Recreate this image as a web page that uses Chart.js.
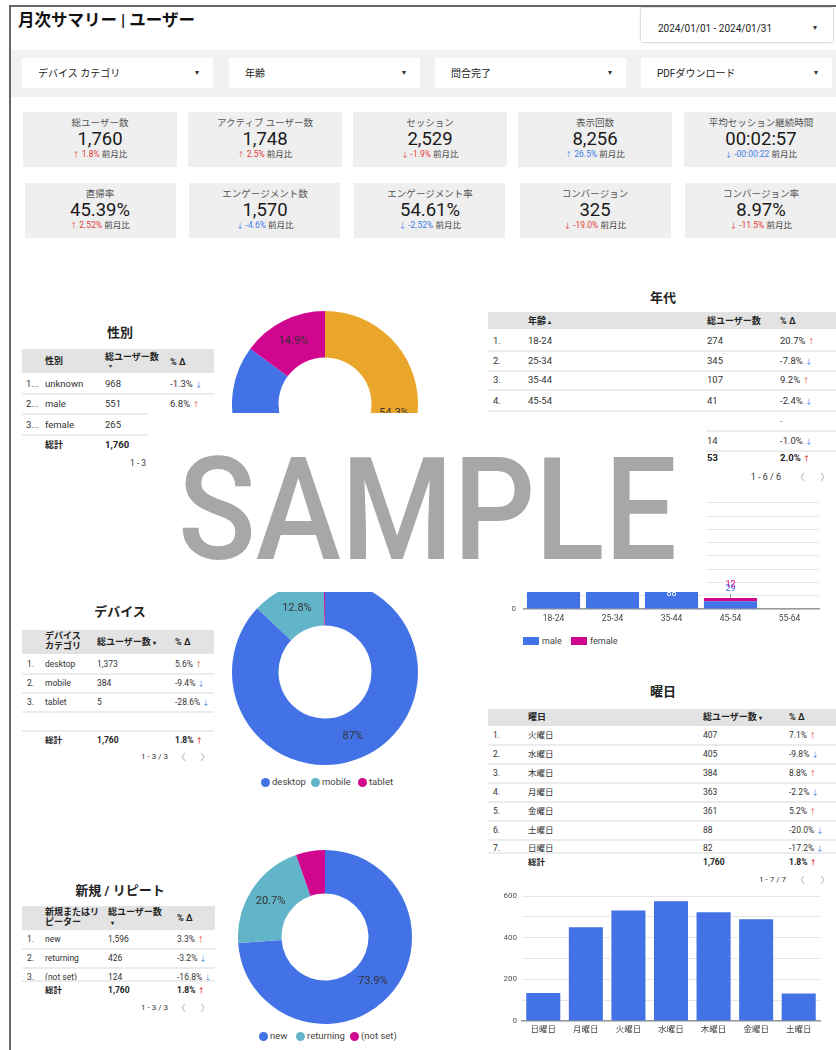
<!DOCTYPE html>
<html><head><meta charset="utf-8">
<script src="https://cdn.jsdelivr.net/npm/chart.js@4.4.0/dist/chart.umd.min.js"></script>
<style>
html,body{margin:0;padding:0;background:#fff;}
body{width:836px;height:1050px;position:relative;overflow:hidden;font-family:Roboto,"Noto Sans CJK JP",sans-serif;color:#222;}
canvas{position:absolute;}
</style></head><body>
<script>
// ---------- DATA ----------
const filterLabels = ['デバイス カテゴリ','年齢','問合完了','PDFダウンロード'];
const kpiLabels = ['総ユーザー数','アクティブ ユーザー数','セッション','表示回数','平均セッション継続時間','直帰率','エンゲージメント数','エンゲージメント率','コンバージョン','コンバージョン率'];
const kpiValues = ['1,760','1,748','2,529','8,256','00:02:57','45.39%','1,570','54.61%','325','8.97%'];
const kpiDeltas = ['1.8%','2.5%','-1.9%','26.5%','-00:00:22','2.52%','-4.6%','-2.52%','-19.0%','-11.5%'];
const kpiUp = [true,true,false,true,false,true,false,false,false,false];
const kpiRed = [true,true,true,false,false,true,false,false,true,true];

const genderNames = ['unknown','male','female'];
const genderUsers = ['968','551','265'];
const genderDelta = ['-1.3%','6.8%',''];
const genderDonut = [968,551,265];

const ageNames = ['18-24','25-34','35-44','45-54','55-64','65+'];
const ageUsers = ['274','345','107','41','','14'];
const ageDelta = ['20.7%','-7.8%','9.2%','-2.4%','-','-1.0%'];
const ageBarLabels = ['18-24','25-34','35-44','45-54','55-64'];
const ageMale = [176,228,88,29,0];
const ageFemale = [98,117,19,12,0];

const deviceNames = ['desktop','mobile','tablet'];
const deviceUsers = ['1,373','384','5'];
const deviceDelta = ['5.6%','-9.4%','-28.6%'];
const deviceDonut = [87,12.8,0.2];

const dayNames = ['火曜日','水曜日','木曜日','月曜日','金曜日','土曜日','日曜日'];
const dayUsers = ['407','405','384','363','361','88','82'];
const dayDelta = ['7.1%','-9.8%','8.8%','-2.2%','5.2%','-20.0%','-17.2%'];
const dayBarLabels = ['日曜日','月曜日','火曜日','水曜日','木曜日','金曜日','土曜日'];
const dayBarValues = [134,450,530,575,522,488,132];

const nrNames = ['new','returning','(not set)'];
const nrUsers = ['1,596','426','124'];
const nrDelta = ['3.3%','-3.2%','-16.8%'];
const nrDonut = [73.9,20.7,5.4];

// ---------- HELPERS ----------
const BLUE='#4372e6', TEAL='#62b4c9', MAG='#d1068e', ORANGE='#e9a62a';
const RED='#e53935', ABLUE='#3d7be8';
const root=document.body;
function el(tag,css,html){const d=document.createElement(tag);d.style.cssText=css;if(html!==undefined)d.innerHTML=html;root.appendChild(d);return d;}
function rect(x,y,w,h,bg,extra=''){return el('div',`position:absolute;left:${x}px;top:${y}px;width:${w}px;height:${h}px;background:${bg};${extra}`);}
function txt(x,y,s,size,opt={}){
  const a=opt.align||'left';
  const tx=a==='center'?'-50%':a==='right'?'-100%':'0';
  const lh=Math.round(size*1.3);
  return el('div',`position:absolute;left:${x}px;top:${y-lh/2}px;line-height:${lh}px;font-size:${size}px;transform:translateX(${tx});white-space:nowrap;color:${opt.color||'#222'};font-weight:${opt.bold?'bold':'normal'};${opt.extra||''}`,s);
}
function delta(s){
  if(!s||s==='-')return s;
  const neg=s.startsWith('-');
  return `${s} <span style="color:${neg?ABLUE:RED};font-size:7px">${neg?'↓':'↑'}</span>`;
}

// ---------- FRAME / HEADER ----------
rect(9,5,827,2,'#666');
rect(9,5,2,1045,'#666');
txt(18,20,'月次サマリー | ユーザー',16.5,{bold:true,color:'#111'});
rect(641,8,192,34,'#fff','box-shadow:0 0 2px rgba(0,0,0,.4);');
txt(715,28,'2024/01/01 - 2024/01/31',10,{align:'center',color:'#222'});
txt(815,28,'▾',8,{align:'center',color:'#333'});

rect(11,50,825,47,'#f1f1f1');
const fl=[22,229,435,641];
filterLabels.forEach((s,i)=>{rect(fl[i],58,191,30,'#fff');txt(fl[i]+16,73,s,10,{color:'#222'});txt(fl[i]+175,73,'▾',8,{align:'center',color:'#333'});});

// ---------- KPI CARDS ----------
const cardL=[[23,188,353,518,684],[25,189,354,520,685]];
const cardT=[112,183];
kpiLabels.forEach((l,i)=>{
  const r=Math.floor(i/5),c=i%5;const x=cardL[r][c],y=cardT[r];
  const w=c===4?836-x:(r===0?154:151);
  rect(x,y,w,55,'#efefef');
  const cx=cardL[0][c]+77;
  txt(cx,y+11,l,9.5,{align:'center',color:'#555'});
  txt(cx,y+27,kpiValues[i],18.5,{align:'center',color:'#1a1a1a'});
  const col=kpiRed[i]?RED:ABLUE;
  txt(cx,y+42.5,`<span style="color:${col}"><span style="font-size:7px">${kpiUp[i]?'↑':'↓'}</span> ${kpiDeltas[i]}</span> <span style="color:#444">前月比</span>`,8.5,{align:'center'});
});

// ---------- TABLES ----------
function sep(x,y,w){rect(x,y,w,2,'#ececec');}

// Gender
txt(120,332,'性別',13,{bold:true,align:'center'});
rect(22,349,192,24,'#e3e3e3');
txt(45,361,'性別',9,{bold:true});
txt(105,357,'総ユーザー数',9,{bold:true});
txt(109,366,'▾',6,{color:'#333'});
txt(170,362,'% Δ',9,{bold:true});
const gy=[384,404,425];
genderNames.forEach((n,i)=>{
  txt(26,gy[i],(i+1)+'...',9.5,{color:'#333'});
  txt(45,gy[i],n,9.5,{color:'#333'});
  txt(105,gy[i],genderUsers[i],9.5,{color:'#333'});
  txt(170,gy[i],delta(genderDelta[i]),9.5,{color:'#333'});
  sep(22,gy[i]+9,192);
});
txt(45,445,'総計',9,{bold:true});
txt(105,445,'1,760',9.5,{bold:true});
txt(170,445,delta('1.8%'),9.5,{bold:true});
txt(130,463,'1 - 3 / 3',8.5,{color:'#333'});

// Age
txt(663,297,'年代',13,{bold:true,align:'center'});
rect(488,312,348,17,'#e3e3e3');
txt(528,321,'年齢 <span style="font-size:6px">▴</span>',9,{bold:true});
txt(707,321,'総ユーザー数',9,{bold:true});
txt(780,321,'% Δ',9,{bold:true});
const ay=[341,361,380,401,421,441];
ageNames.forEach((n,i)=>{
  txt(493,ay[i],(i+1)+'.',9.5,{color:'#333'});
  txt(528,ay[i],n,9.5,{color:'#333'});
  txt(707,ay[i],ageUsers[i],9.5,{color:'#333'});
  txt(780,ay[i],ageDelta[i]==='-'?'<span style="color:#888">-</span>':delta(ageDelta[i]),9.5,{color:'#333'});
  sep(488,ay[i]+9,348);
});
txt(707,458,'53',9.5,{bold:true});
txt(780,458,delta('2.0%'),9.5,{bold:true});
txt(781,477,'1 - 6 / 6',9,{align:'right',color:'#333'});
txt(800,477,'〈',9,{align:'center',color:'#999'});
txt(825,477,'〉',9,{align:'center',color:'#999'});

// Device
txt(120,611,'デバイス',13,{bold:true,align:'center'});
rect(22,630,192,24,'#e3e3e3');
el('div','position:absolute;left:45px;top:631px;font-size:9px;line-height:10px;font-weight:bold;','デバイス<br>カテゴリ');
txt(97,642,'総ユーザー数 <span style="font-size:6px">▾</span>',9,{bold:true});
txt(175,642,'% Δ',9,{bold:true});
const dy=[664,683,702];
deviceNames.forEach((n,i)=>{
  txt(27,dy[i],(i+1)+'.',8.5,{color:'#333'});
  txt(45,dy[i],n,8.5,{color:'#333'});
  txt(97,dy[i],deviceUsers[i],8.5,{color:'#333'});
  txt(175,dy[i],delta(deviceDelta[i]),8.5,{color:'#333'});
  sep(22,dy[i]+9,192);
});
sep(22,730,192);
txt(45,740,'総計',8.5,{bold:true});
txt(97,740,'1,760',8.5,{bold:true});
txt(175,740,delta('1.8%'),8.5,{bold:true});
txt(141,757,'1 - 3 / 3',8,{color:'#333'});
txt(181,757,'〈',9,{align:'center',color:'#999'});
txt(205,757,'〉',9,{align:'center',color:'#999'});

// Weekday
txt(663,691,'曜日',13,{bold:true,align:'center'});
rect(488,709,348,17,'#e3e3e3');
txt(528,717,'曜日',9,{bold:true});
txt(703,717,'総ユーザー数 <span style="font-size:6px">▾</span>',9,{bold:true});
txt(789,717,'% Δ',9,{bold:true});
const wy=[735,754,773,792,811,830,848];
dayNames.forEach((n,i)=>{
  txt(493,wy[i],(i+1)+'.',8.5,{color:'#333'});
  txt(528,wy[i],n,8.5,{color:'#333'});
  txt(703,wy[i],dayUsers[i],8.5,{color:'#333'});
  txt(789,wy[i],delta(dayDelta[i]),8.5,{color:'#333'});
  sep(488,wy[i]+(i===6?4:9),348);
});
txt(528,862,'総計',8.5,{bold:true});
txt(703,862,'1,760',8.5,{bold:true});
txt(789,862,delta('1.8%'),8.5,{bold:true});
txt(786,880,'1 - 7 / 7',8,{align:'right',color:'#333'});
txt(800,880,'〈',9,{align:'center',color:'#999'});
txt(825,880,'〉',9,{align:'center',color:'#999'});

// New / Repeat
txt(120,890,'新規 / リピート',13,{bold:true,align:'center'});
rect(22,906,193,24,'#e3e3e3');
el('div','position:absolute;left:45px;top:907px;font-size:9px;line-height:10px;font-weight:bold;','新規またはリ<br>ピーター');
el('div','position:absolute;left:108px;top:907px;font-size:9px;line-height:10px;font-weight:bold;','総ユーザー数<br><span style="font-size:6px;padding-left:3px">▾</span>');
txt(177,918,'% Δ',9,{bold:true});
const ny=[939,958,977];
nrNames.forEach((n,i)=>{
  txt(27,ny[i],(i+1)+'.',8.5,{color:'#333'});
  txt(45,ny[i],n,8.5,{color:'#333'});
  txt(108,ny[i],nrUsers[i],8.5,{color:'#333'});
  txt(177,ny[i],delta(nrDelta[i]),8.5,{color:'#333'});
  if(i<2)sep(22,ny[i]+9,193);
});
rect(22,981,193,4,'#fff');
sep(22,980,193);
txt(45,990,'総計',8.5,{bold:true});
txt(108,990,'1,760',8.5,{bold:true});
txt(177,990,delta('1.8%'),8.5,{bold:true});
txt(141,1008,'1 - 3 / 3',8,{color:'#333'});
txt(181,1008,'〈',9,{align:'center',color:'#999'});
txt(205,1008,'〉',9,{align:'center',color:'#999'});

// ---------- CHARTS ----------
Chart.defaults.font.family='Roboto, "Noto Sans CJK JP", sans-serif';
function cv(x,y,w,h){const c=el('canvas',`left:${x}px;top:${y}px;width:${w}px;height:${h}px;`);c.width=w;c.height=h;return c;}

const donutLabels={id:'dl',afterDatasetsDraw(chart){
  const ctx=chart.ctx;const ds=chart.data.datasets[0];const tot=ds.data.reduce((a,b)=>a+b,0);
  chart.getDatasetMeta(0).data.forEach((arc,i)=>{
    const p=ds.data[i]/tot*100;if(p<10)return;
    const pos=arc.tooltipPosition();
    let s=p.toFixed(1);if(s.endsWith('.0'))s=s.slice(0,-2);
    ctx.save();ctx.fillStyle='#333';ctx.font='11px Roboto';ctx.textAlign='center';ctx.textBaseline='middle';
    ctx.fillText(s+'%',pos.x,pos.y);ctx.restore();
  });
}};
function donut(canvas,labels,data,colors){
  return new Chart(canvas,{type:'doughnut',data:{labels,datasets:[{data,backgroundColor:colors,borderWidth:0}]},
    options:{responsive:false,animation:false,cutout:'50%',layout:{padding:0},
      plugins:{legend:{display:false},tooltip:{enabled:false}}},plugins:[donutLabels]});
}
donut(cv(232,311,186,186),genderNames,genderDonut,[ORANGE,BLUE,MAG]);
donut(cv(232,579,186,186),deviceNames,deviceDonut,[BLUE,TEAL,MAG]);
donut(cv(238,850,174,174),nrNames,nrDonut,[BLUE,TEAL,MAG]);

function legend(items,y){items.forEach(([x,label,color])=>{
  el('div',`position:absolute;left:${x-4.5}px;top:${y-4.5}px;width:9px;height:9px;border-radius:50%;background:${color}`);
  txt(x+7,y,label,9.5,{color:'#444'});
});}
legend([[265,'desktop',BLUE],[315,'mobile',TEAL],[362,'tablet',MAG]],782);
legend([[263,'new',BLUE],[300,'returning',TEAL],[354,'(not set)',MAG]],1036);

// age legend
rect(523,637,16,8,BLUE);txt(542,641,'male',9,{color:'#444'});
rect(571,637,16,8,MAG);txt(590,641,'female',9,{color:'#444'});

const barLabels={id:'bl',afterDatasetsDraw(chart){
  const ctx=chart.ctx;
  const metas=chart.data.datasets.map((d,di)=>chart.getDatasetMeta(di));
  chart.data.labels.forEach((l,i)=>{
    const top=Math.min(...metas.map(m=>m.data[i].y));
    const small=metas.every((m,di)=>{const v=chart.data.datasets[di].data[i];return !v||(m.data[i].base-m.data[i].y)<14;});
    chart.data.datasets.forEach((ds,di)=>{
      const v=ds.data[i];if(!v)return;const b=metas[di].data[i];
      ctx.save();ctx.font='9px Roboto';ctx.textAlign='center';ctx.textBaseline='middle';
      if(!small){ctx.fillStyle='#fff';ctx.fillText(v,b.x,b.y+8);}
      else{ctx.fillStyle=ds.backgroundColor;ctx.fillText(v,b.x,top-(di===1?13:9));
        ctx.strokeStyle='#999';ctx.lineWidth=1;ctx.beginPath();ctx.moveTo(b.x,top-4);ctx.lineTo(b.x,top);ctx.stroke();}
      ctx.restore();
    });
  });
}};
new Chart(cv(480,490,356,141),{type:'bar',
  data:{labels:ageBarLabels,datasets:[
    {label:'male',data:ageMale,backgroundColor:BLUE,barPercentage:0.9,categoryPercentage:1},
    {label:'female',data:ageFemale,backgroundColor:MAG,barPercentage:0.9,categoryPercentage:1}]},
  options:{responsive:false,animation:false,layout:{padding:{top:10,right:17,left:0,bottom:0}},
    plugins:{legend:{display:false},tooltip:{enabled:false}},
    scales:{
      x:{stacked:true,grid:{display:false,drawTicks:false},border:{color:'#999',width:1.5},ticks:{font:{size:8.5},color:'#444',padding:5,maxRotation:0},afterFit(s){s.height=22;}},
      y:{stacked:true,min:0,max:400,ticks:{stepSize:50,callback:v=>v%100===0?v:'',font:{size:8},color:'#555',padding:8},grid:{color:'#e6e6e6',drawTicks:false},border:{display:false},afterFit(s){s.width=44;}}
    }},plugins:[barLabels]});

new Chart(cv(480,886,356,156),{type:'bar',
  data:{labels:dayBarLabels,datasets:[{data:dayBarValues,backgroundColor:BLUE,barPercentage:0.8,categoryPercentage:1}]},
  options:{responsive:false,animation:false,layout:{padding:{top:10,right:16,left:0,bottom:0}},
    plugins:{legend:{display:false},tooltip:{enabled:false}},
    scales:{
      x:{grid:{display:false,drawTicks:false},border:{color:'#999',width:1.5},ticks:{font:{size:8.5},color:'#444',padding:4,maxRotation:0},afterFit(s){s.height=21;}},
      y:{min:0,max:600,ticks:{stepSize:100,callback:v=>v%200===0?v:'',font:{size:8},color:'#555',padding:5},grid:{color:'#e6e6e6',drawTicks:false},border:{display:false},afterFit(s){s.width=42;}}
    }}});

// ---------- SAMPLE OVERLAY ----------
const ov=rect(147,413,559,179,'#fff','z-index:10;overflow:hidden;');
const sm=document.createElement('div');
sm.textContent='SAMPLE';
sm.style.cssText='position:absolute;left:31px;top:38px;font-family:Roboto,sans-serif;font-weight:500;font-size:142px;line-height:120px;color:#a7a7a7;white-space:nowrap;transform-origin:0 0;';
ov.appendChild(sm);
const w=sm.getBoundingClientRect().width;
sm.style.transform=`scaleX(${499/w})`;
</script>
</body></html>
